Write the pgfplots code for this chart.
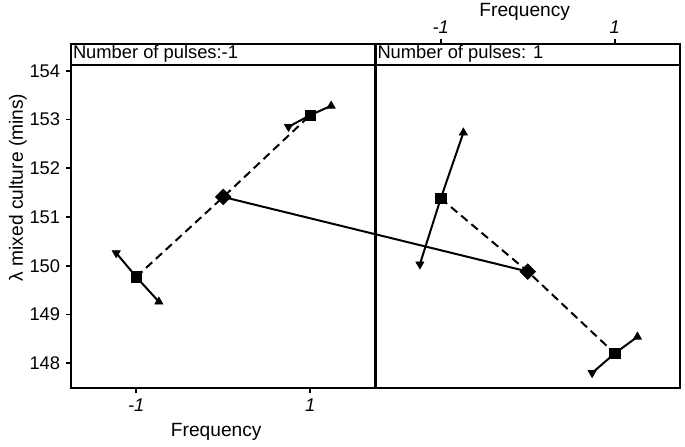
\documentclass[border=0pt]{standalone}
\usepackage{fontspec}
\setmainfont{Liberation Sans}
\usepackage{pgfplots}
\pgfplotsset{compat=1.18}

\pgfplotsset{
  panel/.style={
    scale only axis, width=182.7pt, height=206.4pt,
    xmin=-1.75, xmax=1.75, ymin=147.49, ymax=154.55,
    axis line style={line width=1.6pt},
    tick style={line width=1pt, black},
    tick align=outside, major tick length=3pt,
    xtick={-1,1}, xticklabels={\textit{-1},\textit{1}},
    ticklabel style={font=\fontsize{11}{13}\selectfont},
    label style={font=\fontsize{11.5}{13}\selectfont},
    /pgf/number format/assume math mode=true,
  },
  ci/.style={black, line width=1.2pt, mark=none},
  mean/.style={black, line width=1.2pt, dash pattern=on 5pt off 3pt, mark=none},
  cross/.style={black, line width=1.2pt, mark=none},
  sq/.style={only marks, mark=square*, mark size=3.1pt, black},
  dia/.style={only marks, mark=square*, mark size=3.3pt, black, mark options={rotate=45}},
  dn/.style={only marks, mark=triangle*, mark size=2.8pt, black, mark options={rotate=180}},
  up/.style={only marks, mark=triangle*, mark size=2.8pt, black},
}
\tikzset{head/.style={anchor=west, inner sep=1pt, font=\fontsize{11}{13}\selectfont}}

\begin{document}
\begin{tikzpicture}[x=1pt,y=1pt]
\useasboundingbox (-42.6,-34.8) rectangle (368.4,232.8);

% Number of pulses = -1
\begin{axis}[panel, at={(0,0)}, anchor=south west,
    xtick pos=left, ytick pos=left, ytick={148,149,...,154},
    xlabel={Frequency},
    xlabel style={at={(axis description cs:0.477,-0.128)}, anchor=center},
    ylabel={λ mixed culture (mins)},
    ylabel style={at={(axis description cs:-0.174,0.583)}, anchor=center, rotate=0},
]
\addplot[cross] coordinates {(0,151.41) (3.5,149.88)};
\addplot[mean] coordinates {(-1,149.77) (0,151.41) (1,153.09)};
\addplot[ci] coordinates {(-1.23,150.26) (-1,149.77) (-0.74,149.26)};
\addplot[ci] coordinates {(0.75,152.85) (1,153.09) (1.24,153.28)};
\addplot[sq] coordinates {(-1,149.77) (1,153.09)};
\addplot[dia] coordinates {(0,151.41)};
\addplot[dn] coordinates {(-1.23,150.26) (0.75,152.85)};
\addplot[up] coordinates {(-0.74,149.26) (1.24,153.28)};
\draw[line width=1.6pt] (axis cs:-1.75,154.12) -- (axis cs:1.75,154.12);
\node[head] at (axis cs:-1.75,154.34) {Number of pulses:-1};
\end{axis}

% Number of pulses = 1
\begin{axis}[panel, at={(182.7pt,0)}, anchor=south west,
    xtick pos=right, xticklabel pos=right, ytick=\empty,
    xlabel={Frequency},
    xlabel style={at={(axis description cs:0.49,1.093)}, anchor=center},
]
\addplot[cross] coordinates {(-3.5,151.41) (0,149.88)};
\addplot[mean] coordinates {(-1,151.38) (0,149.88) (1,148.2)};
\addplot[ci] coordinates {(-1.24,150.03) (-1,151.38) (-0.74,152.73)};
\addplot[ci] coordinates {(0.74,147.8) (1,148.2) (1.26,148.54)};
\addplot[sq] coordinates {(-1,151.38) (1,148.2)};
\addplot[dia] coordinates {(0,149.88)};
\addplot[dn] coordinates {(-1.24,150.03) (0.74,147.8)};
\addplot[up] coordinates {(-0.74,152.73) (1.26,148.54)};
\draw[line width=1.6pt] (axis cs:-1.75,154.12) -- (axis cs:1.75,154.12);
\node[head] at (axis cs:-1.75,154.34) {Number of pulses: 1};
\end{axis}
\end{tikzpicture}
\end{document}
